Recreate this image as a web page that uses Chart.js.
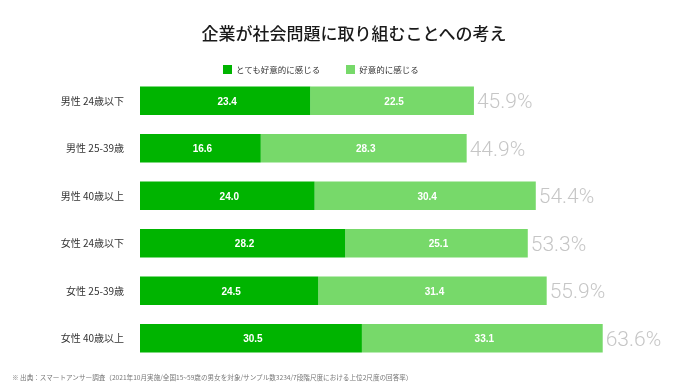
<!DOCTYPE html>
<html>
<head>
<meta charset="utf-8">
<script src="https://cdn.jsdelivr.net/npm/chart.js@4"></script>
<style>
  html, body { margin: 0; padding: 0; background: #fff; }
  #wrap { position: relative; width: 690px; height: 390px; }
  #chart { position: absolute; left: 0; top: 0; }
  #title {
    position: absolute; left: 0; width: 708px; top: 20px; text-align: center;
    font: 500 17px "Noto Sans CJK JP", sans-serif; color: #1a1a1a; line-height: 26px;
  }
  #legend {
    position: absolute; left: 223px; top: 62px; display: flex; align-items: center;
    font: 8.5px "Noto Sans CJK JP", sans-serif; color: #333; line-height: 14px;
  }
  #legend span.box { display: inline-block; width: 9px; height: 9px; margin-right: 4px; }
  #legend span.item { display: flex; align-items: center; margin-right: 26px; }
  #note {
    position: absolute; left: 12px; top: 372px;
    font: 6.6px "Noto Sans CJK JP", sans-serif; color: #777; white-space: nowrap;
  }
</style>
</head>
<body>
<div id="wrap">
  <canvas id="chart" width="690" height="390"></canvas>
  <div id="title">企業が社会問題に取り組むことへの考え</div>
  <div id="legend"></div>
  <div id="note">※ 出典：スマートアンサー調査（2021年10月実施/全国15~59歳の男女を対象/サンプル数3234/7段階尺度における上位2尺度の回答率）</div>
</div>
<script>
// データ
const categories = ['男性 24歳以下', '男性 25-39歳', '男性 40歳以上', '女性 24歳以下', '女性 25-39歳', '女性 40歳以上'];
const veryPositive = [23.4, 16.6, 24.0, 28.2, 24.5, 30.5];
const positive = [22.5, 28.3, 30.4, 25.1, 31.4, 33.1];
const totals = ['45.9%', '44.9%', '54.4%', '53.3%', '55.9%', '63.6%'];
const seriesNames = ['とても好意的に感じる', '好意的に感じる'];
const colors = ['#00b400', '#77d96a'];

const JP = '"Noto Sans CJK JP", sans-serif';

// 凡例
const legendEl = document.getElementById('legend');
seriesNames.forEach((name, i) => {
    const item = document.createElement('span');
    item.className = 'item';
    item.innerHTML = `<span class="box" style="background:${colors[i]}"></span>${name}`;
    legendEl.appendChild(item);
});

// バー内の数値と合計ラベル
const labelPlugin = {
    id: 'barLabels',
    afterDatasetsDraw(chart) {
        const ctx = chart.ctx;
        ctx.save();
        ctx.font = 'bold 10px "Liberation Sans", sans-serif';
        ctx.fillStyle = '#fff';
        ctx.textAlign = 'center';
        ctx.textBaseline = 'middle';
        chart.data.datasets.forEach((ds, i) => {
            chart.getDatasetMeta(i).data.forEach((bar, j) => {
                ctx.fillText(ds.data[j].toFixed(1), (bar.x + bar.base) / 2 + 2, bar.y + 1);
            });
        });
        const last = chart.getDatasetMeta(1).data;
        ctx.font = '300 21px Roboto, sans-serif';
        ctx.fillStyle = '#c6c6c6';
        ctx.textAlign = 'left';
        last.forEach((bar, j) => {
            ctx.fillText(totals[j], bar.x + 3, bar.y + 2);
        });
        ctx.restore();
    }
};

new Chart(document.getElementById('chart'), {
    type: 'bar',
    data: {
        labels: categories,
        datasets: [
            { label: seriesNames[0], data: veryPositive, backgroundColor: colors[0] },
            { label: seriesNames[1], data: positive, backgroundColor: colors[1] }
        ]
    },
    options: {
        indexAxis: 'y',
        responsive: false,
        animation: false,
        barPercentage: 0.6,
        categoryPercentage: 1,
        layout: { padding: { left: 0, right: 48, top: 77, bottom: 28 } },
        plugins: {
            legend: { display: false },
            tooltip: { enabled: false }
        },
        scales: {
            x: { stacked: true, min: 0, max: 69, display: false },
            y: {
                stacked: true,
                grid: { display: false },
                border: { display: false },
                ticks: { color: '#333', padding: 8, font: { family: JP, size: 10 } },
                afterFit(scale) { scale.width = 140; }
            }
        }
    },
    plugins: [labelPlugin]
});
</script>
</body>
</html>
